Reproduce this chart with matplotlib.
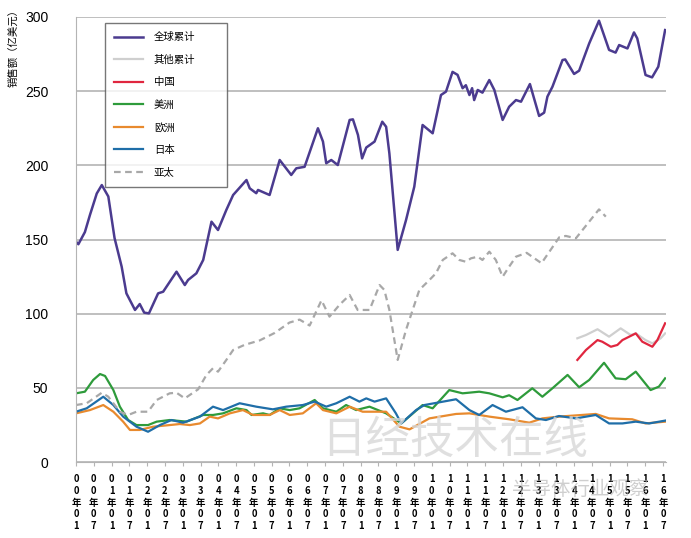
import matplotlib
matplotlib.use("Agg")
import matplotlib.pyplot as plt

plt.rcParams['font.family'] = ['Liberation Sans', 'Noto Sans CJK SC', 'DejaVu Sans']

# months counted from 2000-01 (0) to 2016-07 (198)
global_m = [0, 0.8, 3, 4.7, 7, 8.7, 10.9, 13, 15.4, 17, 19.9, 21.5, 23, 24.6, 27.7, 29.4, 33.9, 36.7,
            37.8, 40.6, 42.9, 45.7, 47.9, 50.7, 53, 57.5, 58.6, 60.8, 61.4, 65.3, 68.7, 72.6, 74.3,
            77.1, 81.6, 83.3, 84.4, 86.1, 88.3, 92.3, 93.4, 95.1, 96.5, 97.9, 100.7, 103.3, 104.6,
            105.7, 108.5, 111.3, 114.1, 116.9, 120.3, 123.1, 124.8, 127, 128.7, 130.4, 131.5, 132.7,
            133.6, 134.3, 135.5, 137.1, 139.4, 141.1, 143.9, 146.1, 148.4, 150.1, 153.1, 156.2,
            157.9, 159, 160.7, 164.1, 165, 168, 169.7, 173.1, 176.4, 179.8, 182, 183.2, 186, 188.2,
            189.3, 192.1, 194.3, 196.4, 198.7]
global_v = [148.5, 146.8, 155, 166.5, 181, 186.7, 179, 151, 131.7, 113.7, 102.5, 106.5, 100.7, 100.2,
            113.7, 114.8, 128.3, 119.3, 122.7, 127.2, 136.2, 162, 156.4, 169.9, 180, 190.1, 184.5,
            181.2, 183.4, 180, 203.6, 193.5, 198, 199, 225, 216, 201.4, 203.6, 200.2, 230.6, 231,
            220.5, 204.7, 212, 216, 229.4, 226, 208, 143, 163, 185.6, 227.2, 221.6, 247.4, 249.7,
            263, 261, 252, 254, 247.4, 252, 244, 250.8, 249, 257.5, 250.8, 230.6, 239.5, 244, 242.9,
            254.8, 233.3, 235.5, 246.3, 253, 271, 271.4, 261.6, 263.8, 282.2, 297.5, 277.8, 276,
            281.1, 278.8, 289.6, 285.6, 260.9, 259.3, 266.5, 291.2]

other_m = [169.1, 172, 175.9, 179.8, 183.7, 187.1, 188.8, 192.1, 194.4, 197.2, 198.7]
other_v = [83.4, 85.6, 89.5, 84.5, 90.1, 85.6, 86.7, 82.2, 80, 83.4, 86.7]

china_m = [169.1, 172, 175.9, 177.5, 180.4, 182.6, 184.3, 188.8, 191, 194.4, 196.1, 198.7]
china_v = [68.8, 75.5, 82.2, 81.1, 77.7, 78.9, 82.2, 86.7, 81.1, 77.7, 82.2, 93.5]

america_m = [0, 3, 5.8, 8.1, 9.8, 12.6, 14.8, 17.6, 20.4, 24.3, 27.2, 31.6, 37.3, 42.9, 46.2, 49.6,
             54.1, 57.5, 59.2, 63.1, 65.3, 68.7, 72.1, 75.4, 80.5, 83.3, 87.8, 91.1, 94.5, 99,
             104.6, 109.7, 116.9, 120.3, 125.9, 130.4, 136, 139.4, 143.9, 146.1, 148.9, 153.9,
             157.3, 160.7, 165.8, 169.7, 173.1, 178.1, 182, 185.4, 188.8, 193.8, 196.6, 198.7]
america_v = [46.3, 47.4, 55.3, 59.3, 58, 48.5, 37.3, 28.3, 24.9, 24.9, 27.2, 28.3, 27.2, 31.7, 31.7,
             32.8, 36.2, 35, 31.7, 32.8, 31.7, 36.2, 35, 36.2, 41.8, 36.2, 33.9, 38.4, 35, 37.3,
             32.8, 26, 38.4, 36.2, 48.5, 46.3, 47.4, 46.3, 43.6, 45, 41.8, 49.7, 44, 49.7, 58.7,
             50.4, 55.3, 66.9, 56.4, 55.8, 60.9, 48.5, 50.8, 56.4]

europe_m = [0, 4.7, 9.2, 12.6, 15.9, 18.2, 21.5, 26, 31.6, 35, 38.4, 41.8, 45.1, 47.9, 51.9, 56.3,
            59.7, 65.3, 68.7, 72.1, 76.5, 81, 83.3, 87.8, 92.3, 96.7, 101.2, 104.6, 109.1, 112.5,
            119.2, 128.2, 132.7, 139.4, 146.1, 152.9, 157.3, 162.9, 170.6, 175.3, 179.8, 187.6,
            192.1, 198.7]
europe_v = [32.8, 35, 38.4, 33.9, 27.2, 21.6, 21.6, 23.8, 24.9, 25.6, 24.9, 26, 30.6, 29.4, 32.8, 35,
            31.7, 31.7, 35, 31.7, 32.8, 39.6, 35, 32.8, 37.3, 33.9, 33.9, 33.9, 23.8, 22, 29.4,
            32.4, 32.8, 30.6, 28.8, 26.5, 29.4, 30.6, 31.7, 32.4, 29.4, 28.8, 26, 27.2]

japan_m = [0, 3.6, 9.2, 12.6, 15.9, 20.4, 24.3, 28.3, 32.2, 36.1, 41.8, 46.2, 49.6, 55.2, 60.8,
           66.4, 70.9, 76.5, 80.5, 84.4, 87.8, 92.3, 95.6, 97.9, 100.7, 104.6, 107.9, 109.7, 114.7,
           117.5, 128.2, 132.7, 136, 140.5, 145, 150.6, 155.1, 158.5, 162.9, 168.6, 175.3, 179.8,
           184.3, 188.8, 193.3, 198.7]
japan_v = [33.9, 36.2, 44, 38.4, 30.6, 23.8, 20.4, 24.9, 28.3, 26.5, 30.6, 37.3, 35, 39.6, 37.3,
           35.5, 37.3, 38.4, 40.7, 37.3, 39.6, 44, 40.7, 42.9, 40.7, 42.9, 32.8, 26, 35, 38.4,
           42.3, 35, 31.7, 38.4, 33.9, 36.9, 29.4, 28.3, 31, 29.4, 31.7, 26, 26, 27.2, 26, 27.9]

apac_m = [0, 3.6, 8.7, 10.9, 14.8, 17.6, 20.4, 24.3, 27.2, 31.6, 33.9, 36.7, 41.2, 44, 46.2, 47.9,
          50.7, 53, 56.9, 62, 67, 72, 75.4, 78.8, 82.8, 85.5, 88.9, 92.3, 95, 99, 102.4, 104,
          105.7, 108.5, 111.3, 115.8, 119.2, 121.4, 123.7, 127, 129.3, 131.5, 133.2, 135.5,
          137.1, 139.4, 141.6, 143.9, 146.1, 148.4, 152, 157, 163, 165.2, 168.6, 176.4, 178.7]
apac_v = [38.4, 39.6, 46.7, 44, 33.9, 31.7, 33.9, 33.9, 41.8, 46.3, 46.7, 42.9, 49, 58.7, 63.2, 60.9,
          68.8, 75.5, 79, 82, 87, 94, 96, 92, 109, 98, 106, 112.6, 102.5, 102.5, 119.3, 116,
          102.5, 68.8, 89, 116, 122.7, 127.2, 136.2, 140.7, 136.2, 135, 137.3, 138.4, 136.2,
          141.8, 136.2, 124.9, 131.7, 138.4, 141, 134, 151.5, 152.4, 150.8, 170.3, 165.4]

tick_labels = []
for yr in range(0, 17):
    for mo in (1, 7):
        tick_labels.append(f"{yr:02d}年{mo:02d}")
tick_pos = list(range(0, 199, 6))

fig = plt.figure(figsize=(6.91, 5.38), dpi=100)
ax = fig.add_axes([76 / 691, 1 - 462 / 538, 590 / 691, 445 / 538])

ax.plot(global_m, global_v, color='#4b3b8f', lw=1.8, label='全球累计')
ax.plot(other_m, other_v, color='#cfcfcf', lw=1.6, label='其他累计')
ax.plot(china_m, china_v, color='#e0263f', lw=1.6, label='中国')
ax.plot(america_m, america_v, color='#2e9b3b', lw=1.6, label='美洲')
ax.plot(europe_m, europe_v, color='#e88a2e', lw=1.6, label='欧洲')
ax.plot(japan_m, japan_v, color='#1f6ea8', lw=1.6, label='日本')
ax.plot(apac_m, apac_v, color='#a8a8a8', lw=1.6, ls=(0, (3, 2)), label='亚太')

ax.set_xlim(0, 199)
ax.set_ylim(0, 300)
ax.set_yticks(range(0, 301, 50))
ax.yaxis.grid(True, color='#b4b4b4', lw=1.2)
ax.set_axisbelow(True)
for s in ['top', 'right']:
    ax.spines[s].set_visible(False)
for s in ['left', 'bottom']:
    ax.spines[s].set_color('#b4b4b4')
ax.tick_params(axis='y', length=0, pad=20, labelsize=10)
ax.set_xticks(tick_pos)
ax.set_xticklabels(["\n".join(t) for t in tick_labels], fontsize=6.8,
                   family=['Noto Sans CJK SC', 'DejaVu Sans'], linespacing=1.2,
                   fontweight='bold')
ax.tick_params(axis='x', length=3, color='#b4b4b4', pad=6)

leg = ax.legend(loc='upper left', bbox_to_anchor=(0.049, 0.987, 0.207, 0.0),
                mode='expand', borderaxespad=0, labelspacing=1.2, borderpad=0.9,
                handlelength=2.8, handletextpad=1.0, fancybox=False, frameon=True,
                prop={'family': ['Noto Sans CJK SC', 'DejaVu Sans'], 'size': 7.5})
leg.get_frame().set_edgecolor('#555555')
leg.get_frame().set_linewidth(1.0)

fig.text(8 / 691, 1 - 4 / 538, '销售额（亿美元）', rotation=90, va='top', ha='left',
         fontsize=7.5, family=['Noto Sans CJK SC', 'DejaVu Sans'])

# watermarks
fig.text(455 / 691, 1 - 440 / 538, '日经技术在线', ha='center', va='center', fontsize=32,
         color='#d8d8d8', family=['Noto Sans CJK SC', 'DejaVu Sans'], alpha=0.8)
fig.text(580 / 691, 1 - 489 / 538, '半导体行业观察', ha='center', va='center', fontsize=14,
         color='#b0b0b0', family=['Noto Sans CJK SC', 'DejaVu Sans'], alpha=0.6)

fig.savefig('out.png', dpi=100, facecolor='white')
